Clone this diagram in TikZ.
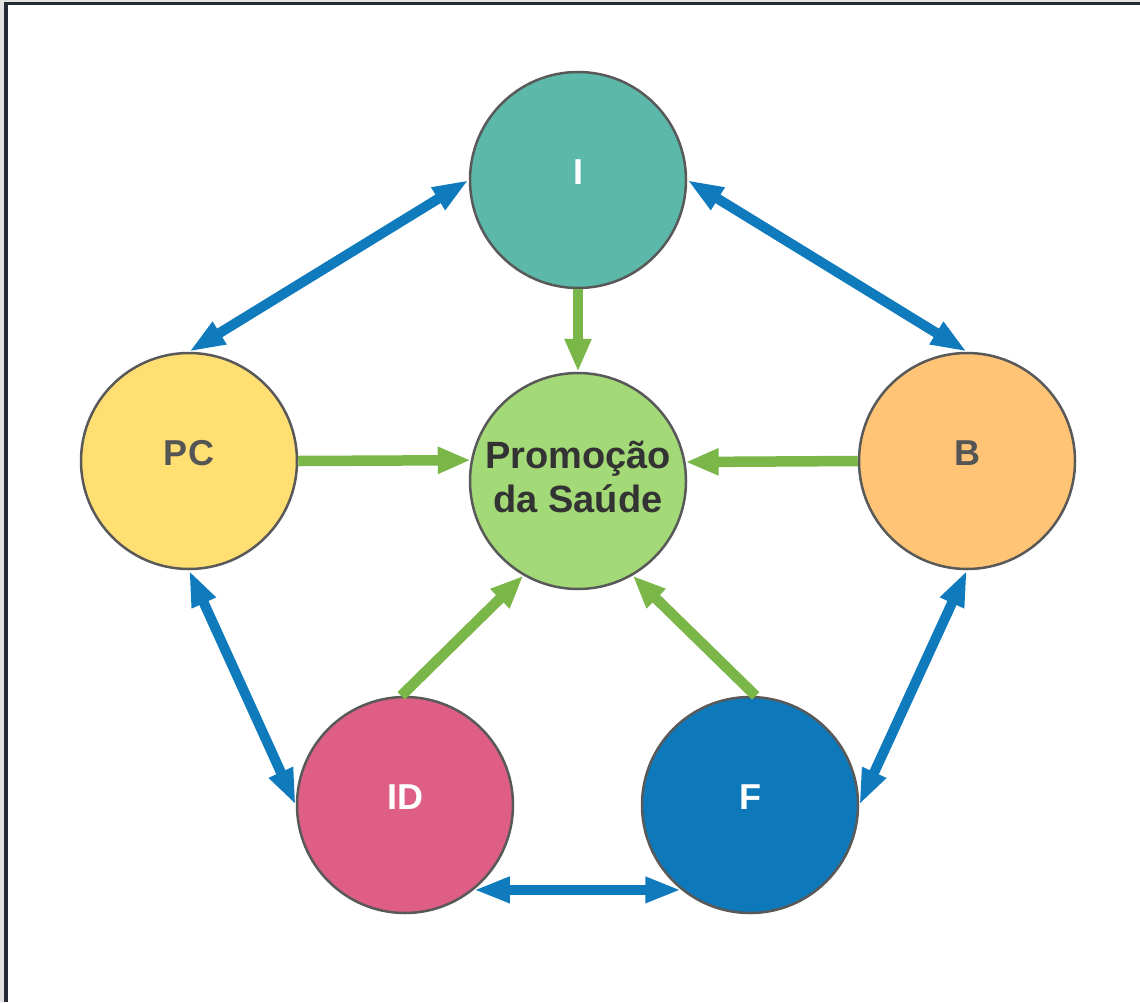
\documentclass[tikz,border=0pt]{standalone}
\usepackage{fontspec}
\setmainfont{Liberation Sans}
\usetikzlibrary{arrows.meta}
\definecolor{frameDark}{HTML}{232B36}
\definecolor{frameLight}{HTML}{E2E2E2}
\definecolor{circBorder}{HTML}{595959}
\definecolor{cTeal}{HTML}{5CB9A9}
\definecolor{cYellow}{HTML}{FFDF72}
\definecolor{cOrange}{HTML}{FFC476}
\definecolor{cGreen}{HTML}{A3D977}
\definecolor{cPink}{HTML}{DF5E85}
\definecolor{cBlue}{HTML}{0D79BA}
\definecolor{arrBlue}{HTML}{0F7BBD}
\definecolor{arrGreen}{HTML}{7AB648}
\definecolor{txtGray}{HTML}{555555}
\definecolor{txtDark}{HTML}{333333}
\tikzset{
  circ/.style={circle, draw=circBorder, line width=2.5pt, minimum size=216pt, inner sep=0pt,
    font=\fontsize{36}{44}\selectfont\bfseries, text height=26pt, text depth=18pt},
  bluearr/.style={draw=arrBlue, line width=10pt,
    {Triangle[length=36pt,width=24pt,fill=arrBlue]}-{Triangle[length=36pt,width=24pt,fill=arrBlue]}},
  greenarr/.style={draw=arrGreen, line width=10.5pt,
    -{Triangle[length=33pt,width=25pt,fill=arrGreen]}}
}
\begin{document}
\begin{tikzpicture}[x=1pt,y=-1pt]
\useasboundingbox (0,0) rectangle (1140,1002);
\fill[white] (0,0) rectangle (1140,1002);
% frame
\fill[frameLight] (0,0) rectangle (4,1002);
\fill[frameLight] (0,0) rectangle (1140,1.5);
\fill[frameDark] (4,1.5) rectangle (8,1002);
\fill[frameDark] (4,1.5) rectangle (1140,5);
% circles
\node[circ, fill=cTeal, text=white] (I) at (578,180) {I};
\node[circ, fill=cYellow, text=txtGray] (PC) at (189,461) {PC};
\node[circ, fill=cOrange, text=txtGray] (B) at (967,461) {B};
\node[circ, fill=cGreen, text=txtDark, align=center, font=\fontsize{38}{44}\selectfont\bfseries, text height=, text depth=8pt] (P) at (578,481) {Promoção\\da Saúde};
\node[circ, fill=cPink, text=white] (ID) at (405,805) {ID};
\node[circ, fill=cBlue, text=white] (F) at (750,805) {F};
% blue connectors
\draw[bluearr] (PC.north) -- (I.west);
\draw[bluearr] (I.east) -- (B.north);
\draw[bluearr] (PC.south) -- (ID.west);
\draw[bluearr] (B.south) -- (F.east);
\draw[bluearr] (ID.-51) -- (F.-129);
% green connectors
\draw[greenarr] (I.south) -- (P.north);
\draw[greenarr] (PC.east) -- (P.169.45);
\draw[greenarr] (B.west) -- (P.10.55);
\draw[greenarr] (ID.92) -- (P.-120);
\draw[greenarr] (F.87) -- (P.-60);
\end{tikzpicture}
\end{document}
